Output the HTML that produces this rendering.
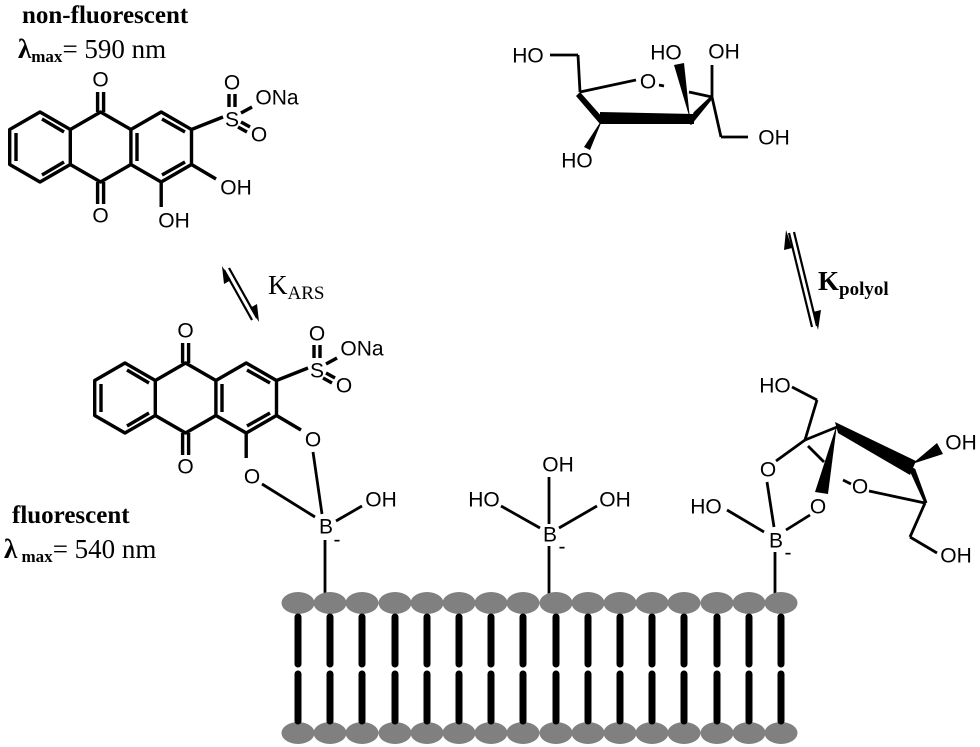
<!DOCTYPE html>
<html><head><meta charset="utf-8"><style>
html,body{margin:0;padding:0;background:#fff;}
svg{display:block}
.t{font-family:"Liberation Serif",serif;fill:#000}
.a{font-family:"Liberation Sans",sans-serif;font-size:21px;fill:#000;text-anchor:middle;dominant-baseline:central}
</style></head><body>
<svg width="980" height="747" viewBox="0 0 980 747" xmlns="http://www.w3.org/2000/svg">
<defs>
<g id="aq" stroke="#000" stroke-width="3.4" fill="none" stroke-linejoin="round">
  <polygon points="40,112 70.3,129.5 70.3,164.5 40,182 9.7,164.5 9.7,129.5"/>
  <line x1="16" y1="133" x2="16" y2="161"/>
  <line x1="42" y1="119" x2="64" y2="132"/>
  <line x1="42" y1="175" x2="64" y2="162"/>
  <polyline points="70.3,129.5 100.6,112 130.9,129.5"/>
  <polyline points="70.3,164.5 100.6,182 130.9,164.5"/>
  <polyline points="130.9,129.5 161.2,112 191.5,129.5 191.5,164.5 161.2,182 130.9,164.5 130.9,129.5"/>
  <line x1="137" y1="133" x2="137" y2="161"/>
  <line x1="162" y1="119" x2="185" y2="132"/>
  <line x1="162" y1="175" x2="185" y2="162"/>
  <line x1="97.6" y1="112" x2="97.6" y2="92"/><line x1="103.6" y1="112" x2="103.6" y2="92"/>
  <line x1="97.6" y1="182" x2="97.6" y2="204"/><line x1="103.6" y1="182" x2="103.6" y2="204"/>
  <line x1="191.5" y1="129.5" x2="223" y2="117"/>
  <line x1="229" y1="107" x2="229" y2="94"/><line x1="235" y1="107" x2="235" y2="94"/>
  <line x1="241" y1="113" x2="252" y2="107"/>
  <line x1="241" y1="122" x2="250" y2="127"/><line x1="238" y1="127" x2="247" y2="132"/>
  <line x1="191.5" y1="164.5" x2="216" y2="179"/>
  <line x1="161.2" y1="182" x2="161.2" y2="207"/>
</g>
</defs>

<text class="t" x="22" y="23" font-size="25" font-weight="bold">non-fluorescent</text>
<text class="t" x="18" y="58" font-size="27"><tspan font-weight="bold">λ</tspan><tspan font-size="17" font-weight="bold" dy="4">max</tspan><tspan dy="-4">= 590 nm</tspan></text>
<text class="t" x="12" y="523" font-size="25" font-weight="bold">fluorescent</text>
<text class="t" x="4" y="558" font-size="27"><tspan font-weight="bold">λ</tspan><tspan font-size="17" font-weight="bold" dy="4"> max</tspan><tspan dy="-4">= 540 nm</tspan></text>

<use href="#aq"/>
<text class="a" x="100.6" y="80">O</text>
<text class="a" x="100.6" y="216">O</text>
<text class="a" x="232" y="120">S</text>
<text class="a" x="232" y="83">O</text>
<text class="a" x="277" y="98">ONa</text>
<text class="a" x="259" y="135">O</text>
<text class="a" x="236" y="188">OH</text>
<text class="a" x="174" y="221">OH</text>

<g transform="translate(85,251)"><use href="#aq"/>
<text class="a" x="100.6" y="80">O</text>
<text class="a" x="100.6" y="216">O</text>
<text class="a" x="232" y="120">S</text>
<text class="a" x="232" y="83">O</text>
<text class="a" x="277" y="98">ONa</text>
<text class="a" x="259" y="135">O</text>
<text class="a" x="228" y="189">O</text>
<text class="a" x="167" y="226">O</text>
</g>
<g stroke="#000" stroke-width="2.8" fill="none">
<line x1="313" y1="452" x2="322" y2="514"/>
<line x1="262" y1="484" x2="315" y2="517"/>
<line x1="336" y1="521" x2="362" y2="506"/>
<line x1="325" y1="540" x2="325" y2="593"/>
</g>
<text class="a" x="326" y="527">B</text>
<text class="a" x="337" y="540" font-size="17">-</text>
<text class="a" x="381" y="500">OH</text>

<g stroke="#000" stroke-width="2.8" fill="none">
<line x1="549" y1="477" x2="549" y2="524"/>
<line x1="501" y1="506" x2="540" y2="528"/>
<line x1="597" y1="506" x2="559" y2="528"/>
<line x1="549" y1="546" x2="549" y2="596"/>
</g>
<text class="a" x="558" y="465">OH</text>
<text class="a" x="484" y="500">HO</text>
<text class="a" x="615" y="500">OH</text>
<text class="a" x="550" y="535">B</text>
<text class="a" x="562" y="547" font-size="17">-</text>

<g stroke="#000" stroke-width="2.8" fill="none" stroke-linejoin="round">
<line x1="550" y1="55" x2="578" y2="55"/>
<line x1="578" y1="55" x2="580" y2="92"/>
<line x1="580" y1="92" x2="636" y2="80"/>
<line x1="659" y1="85" x2="664" y2="86"/>
<line x1="689" y1="92" x2="712" y2="97"/>
<line x1="712" y1="97" x2="712" y2="65"/>
<line x1="712" y1="97" x2="721" y2="137"/>
<line x1="721" y1="137" x2="748" y2="137"/>
</g>
<polygon points="580,92 603,118 600,124 576,96" fill="#000"/>
<polygon points="600,112 694,114 694,124 600,124" fill="#000"/>
<polygon points="690,124 712,97 695,113" fill="#000" stroke="#000" stroke-width="3"/>
<polygon points="690,119 674,65 684,63" fill="#000"/>
<polygon points="603,118 590,150 584,147" fill="#000"/>
<text class="a" x="528" y="56">HO</text>
<text class="a" x="648" y="82">O</text>
<text class="a" x="666" y="53">HO</text>
<text class="a" x="724" y="52">OH</text>
<text class="a" x="774" y="138">OH</text>
<text class="a" x="577" y="161">HO</text>

<g stroke="#000" stroke-width="2.2" fill="none">
<line x1="224" y1="270" x2="252" y2="320"/>
<line x1="229" y1="268" x2="257" y2="318"/>
<line x1="789" y1="233" x2="812" y2="327"/>
<line x1="794" y1="232" x2="817" y2="326"/>
</g>
<polygon points="222,266 224,284 231,280" fill="#000"/>
<polygon points="259,322 257,304 250,308" fill="#000"/>
<polygon points="786,230 784,250 792,248" fill="#000"/>
<polygon points="818,330 821,310 813,312" fill="#000"/>
<text class="t" x="268" y="294" font-size="27">K<tspan font-size="19" dy="5">ARS</tspan></text>
<text class="t" x="818" y="290" font-size="27" font-weight="bold">K<tspan font-size="19" dy="5">polyol</tspan></text>

<g stroke="#000" stroke-width="2.8" fill="none" stroke-linejoin="round">
<line x1="727" y1="510" x2="764" y2="532"/>
<line x1="767" y1="482" x2="774" y2="527"/>
<line x1="786" y1="530" x2="810" y2="515"/>
<line x1="775" y1="552" x2="775" y2="596"/>
<line x1="776" y1="461" x2="805" y2="440"/>
<line x1="805" y1="440" x2="817" y2="400"/>
<line x1="817" y1="400" x2="792" y2="387"/>
<line x1="805" y1="440" x2="837" y2="427"/>
<line x1="808" y1="446" x2="824" y2="462"/>
<line x1="843" y1="480" x2="851" y2="484"/>
<line x1="869" y1="491" x2="925" y2="503"/>
<line x1="925" y1="503" x2="910" y2="537"/>
<line x1="910" y1="537" x2="937" y2="553"/>
</g>
<polygon points="837,424 815,492 828,494" fill="#000"/>
<polygon points="835,422 916,461 910,475 838,433" fill="#000"/>
<polygon points="910,468 926,503 914,470" fill="#000" stroke="#000" stroke-width="3"/>
<polygon points="912,464 937,443 943,454" fill="#000"/>
<text class="a" x="775" y="386">HO</text>
<text class="a" x="768" y="470">O</text>
<text class="a" x="818" y="507">O</text>
<text class="a" x="860" y="487">O</text>
<text class="a" x="706" y="507">HO</text>
<text class="a" x="776" y="541">B</text>
<text class="a" x="788" y="553" font-size="17">-</text>
<text class="a" x="961" y="443">OH</text>
<text class="a" x="956" y="556">OH</text>

<g fill="#808080">
<ellipse cx="298" cy="603" rx="16.5" ry="11"/><ellipse cx="330" cy="603" rx="16.5" ry="11"/><ellipse cx="362" cy="603" rx="16.5" ry="11"/><ellipse cx="395" cy="603" rx="16.5" ry="11"/><ellipse cx="427" cy="603" rx="16.5" ry="11"/><ellipse cx="459" cy="603" rx="16.5" ry="11"/><ellipse cx="491" cy="603" rx="16.5" ry="11"/><ellipse cx="523" cy="603" rx="16.5" ry="11"/><ellipse cx="556" cy="603" rx="16.5" ry="11"/><ellipse cx="588" cy="603" rx="16.5" ry="11"/><ellipse cx="620" cy="603" rx="16.5" ry="11"/><ellipse cx="652" cy="603" rx="16.5" ry="11"/><ellipse cx="684" cy="603" rx="16.5" ry="11"/><ellipse cx="717" cy="603" rx="16.5" ry="11"/><ellipse cx="749" cy="603" rx="16.5" ry="11"/><ellipse cx="781" cy="603" rx="16.5" ry="11"/>
<ellipse cx="298" cy="733" rx="16.5" ry="11"/><ellipse cx="330" cy="733" rx="16.5" ry="11"/><ellipse cx="362" cy="733" rx="16.5" ry="11"/><ellipse cx="395" cy="733" rx="16.5" ry="11"/><ellipse cx="427" cy="733" rx="16.5" ry="11"/><ellipse cx="459" cy="733" rx="16.5" ry="11"/><ellipse cx="491" cy="733" rx="16.5" ry="11"/><ellipse cx="523" cy="733" rx="16.5" ry="11"/><ellipse cx="556" cy="733" rx="16.5" ry="11"/><ellipse cx="588" cy="733" rx="16.5" ry="11"/><ellipse cx="620" cy="733" rx="16.5" ry="11"/><ellipse cx="652" cy="733" rx="16.5" ry="11"/><ellipse cx="684" cy="733" rx="16.5" ry="11"/><ellipse cx="717" cy="733" rx="16.5" ry="11"/><ellipse cx="749" cy="733" rx="16.5" ry="11"/><ellipse cx="781" cy="733" rx="16.5" ry="11"/>
</g>
<g stroke="#000" stroke-width="7" stroke-linecap="round">
<path d="M298,617V664M298,674V721M330,617V664M330,674V721M362,617V664M362,674V721M395,617V664M395,674V721M427,617V664M427,674V721M459,617V664M459,674V721M491,617V664M491,674V721M523,617V664M523,674V721M556,617V664M556,674V721M588,617V664M588,674V721M620,617V664M620,674V721M652,617V664M652,674V721M684,617V664M684,674V721M717,617V664M717,674V721M749,617V664M749,674V721M781,617V664M781,674V721"/>
</g>
</svg>
</body></html>
